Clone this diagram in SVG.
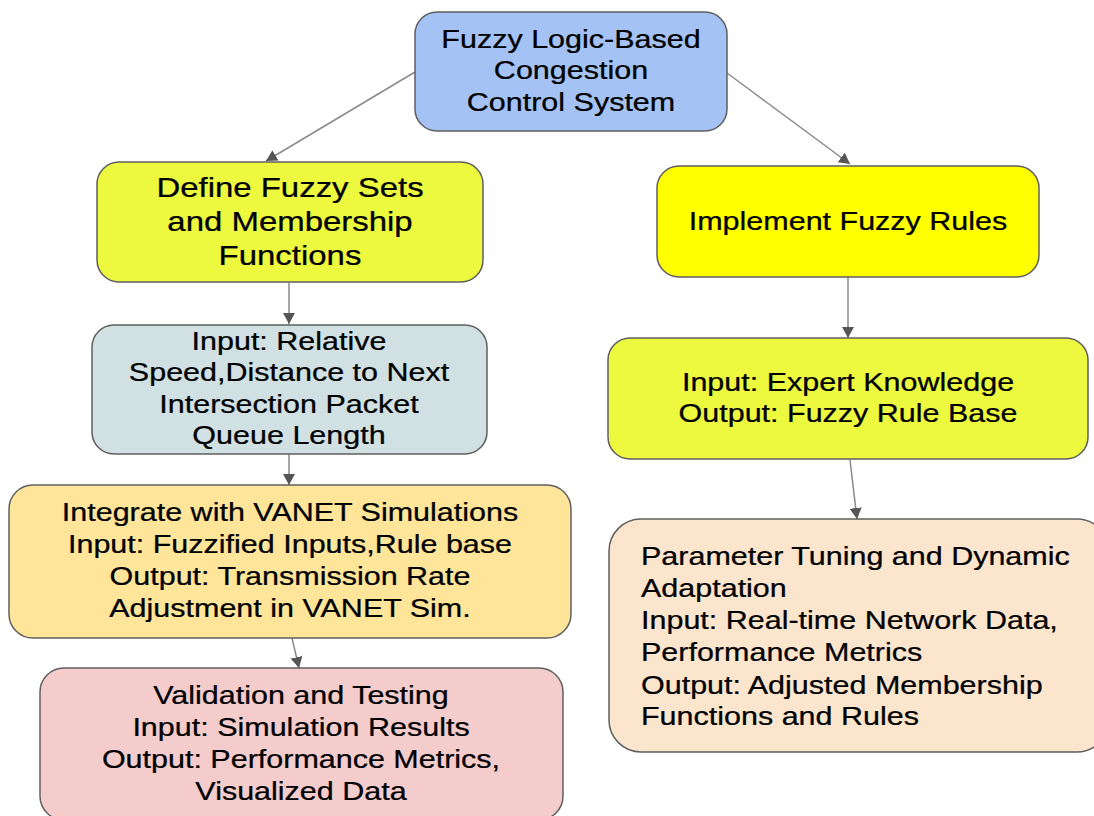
<svg xmlns="http://www.w3.org/2000/svg" width="1094" height="816" viewBox="0 0 1094 816">
<style>
.box{stroke:#5f5f5f;stroke-width:1.5}
.t{font-family:"Liberation Sans",Arial,sans-serif;font-size:25px;fill:#000;stroke:#000;stroke-width:0.25}
.c{text-anchor:middle}
.big{font-size:27px}
.conn{stroke:#8a8a8a;stroke-width:1.5;fill:none}
</style>
<defs>
<marker id="ah" viewBox="0 0 11 12" refX="11" refY="6" markerWidth="11" markerHeight="12" markerUnits="userSpaceOnUse" orient="auto">
<path d="M0,0 L11,6 L0,12 Z" fill="#555"/>
</marker>
</defs>
<rect width="1094" height="816" fill="#fff"/>
<g id="connectors">
<line class="conn" x1="415" y1="72" x2="266" y2="161" marker-end="url(#ah)"/>
<line class="conn" x1="727" y1="73" x2="850" y2="164" marker-end="url(#ah)"/>
<line class="conn" x1="289" y1="283" x2="289" y2="324" marker-end="url(#ah)"/>
<line class="conn" x1="848" y1="277" x2="848" y2="338" marker-end="url(#ah)"/>
<line class="conn" x1="289" y1="454" x2="289" y2="485" marker-end="url(#ah)"/>
<line class="conn" x1="850" y1="460" x2="857" y2="519" marker-end="url(#ah)"/>
<line class="conn" x1="292" y1="638" x2="299" y2="668" marker-end="url(#ah)"/>
</g>
<g id="n1">
<rect class="box" x="415" y="12" width="312" height="119" rx="22" fill="#a4c2f4"/>
<g transform="translate(571,0) scale(1.22,1)"><text class="t c" x="0" y="48">Fuzzy Logic-Based</text><text class="t c" x="0" y="79">Congestion</text><text class="t c" x="0" y="111">Control System</text></g>
</g>
<g id="n2">
<rect class="box" x="97" y="162" width="386" height="120" rx="22" fill="#ecf93f"/>
<g transform="translate(290,0) scale(1.22,1)"><text class="t c big" x="0" y="197">Define Fuzzy Sets</text><text class="t c big" x="0" y="231">and Membership</text><text class="t c big" x="0" y="265">Functions</text></g>
</g>
<g id="n3">
<rect class="box" x="657" y="166" width="382" height="111" rx="22" fill="#ffff00"/>
<g transform="translate(848,0) scale(1.22,1)"><text class="t c" x="0" y="230">Implement Fuzzy Rules</text></g>
</g>
<g id="n4">
<rect class="box" x="92" y="325" width="395" height="129" rx="22" fill="#d0e0e3"/>
<g transform="translate(289,0) scale(1.22,1)"><text class="t c" x="0" y="350">Input: Relative</text><text class="t c" x="0" y="381">Speed,Distance to Next</text><text class="t c" x="0" y="413">Intersection Packet</text><text class="t c" x="0" y="444">Queue Length</text></g>
</g>
<g id="n5">
<rect class="box" x="608" y="338" width="480" height="121" rx="22" fill="#ecf93f"/>
<g transform="translate(848,0) scale(1.22,1)"><text class="t c" x="0" y="391">Input: Expert Knowledge</text><text class="t c" x="0" y="422">Output: Fuzzy Rule Base</text></g>
</g>
<g id="n6">
<rect class="box" x="9" y="485" width="562" height="153" rx="24" fill="#ffe599"/>
<g transform="translate(290,0) scale(1.22,1)"><text class="t c" x="0" y="521">Integrate with VANET Simulations</text><text class="t c" x="0" y="553">Input: Fuzzified Inputs,Rule base</text><text class="t c" x="0" y="585">Output: Transmission Rate</text><text class="t c" x="0" y="617">Adjustment in VANET Sim.</text></g>
</g>
<g id="n7">
<rect class="box" x="40" y="668" width="523" height="152" rx="24" fill="#f4cccc"/>
<g transform="translate(301,0) scale(1.22,1)"><text class="t c" x="0" y="704">Validation and Testing</text><text class="t c" x="0" y="736">Input: Simulation Results</text><text class="t c" x="0" y="768">Output: Performance Metrics,</text><text class="t c" x="0" y="800">Visualized Data</text></g>
</g>
<g id="n8">
<rect class="box" x="609" y="519" width="500" height="233" rx="32" fill="#fce5cd"/>
<g transform="translate(641,0) scale(1.22,1)"><text class="t" x="0" y="565">Parameter Tuning and Dynamic</text><text class="t" x="0" y="597">Adaptation</text><text class="t" x="0" y="629">Input: Real-time Network Data,</text><text class="t" x="0" y="661">Performance Metrics</text><text class="t" x="0" y="694">Output: Adjusted Membership</text><text class="t" x="0" y="725">Functions and Rules</text></g>
</g>
</svg>
